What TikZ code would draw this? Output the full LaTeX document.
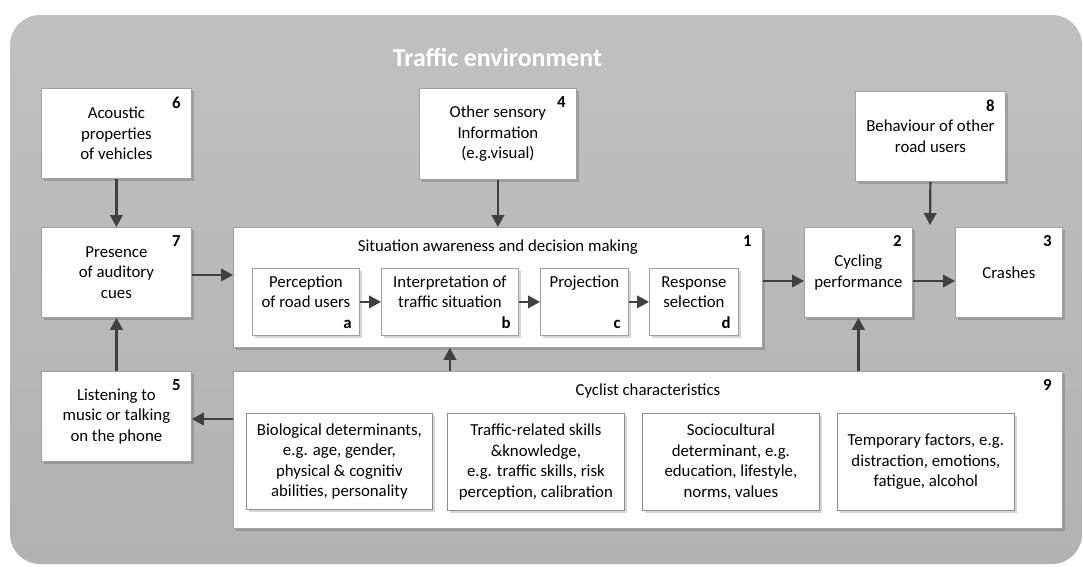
\documentclass[tikz,border=0pt]{standalone}
\usepackage{fontspec}
\setmainfont{Carlito}
\usetikzlibrary{arrows.meta,shadows,calc}
\definecolor{bgtop}{HTML}{C0C0C0}
\definecolor{bgbot}{HTML}{B2B2B2}
\definecolor{arr}{HTML}{404040}
\definecolor{bord}{HTML}{A0A0A0}
\definecolor{ibord}{HTML}{8C8C8C}
\newcommand\bodyfont{\fontsize{16.8}{20.5}\selectfont}
\newcommand\topln{\rule{0pt}{12pt}}
\newcommand\botpad{\rule[-20.5pt]{0pt}{20.5pt}}
\begin{document}
\begin{tikzpicture}[x=1pt,y=-1pt,
  box/.style={draw=bord, line width=0.8pt, fill=white, align=center, inner sep=0pt,
    font=\bodyfont, anchor=north west,
    drop shadow={shadow xshift=2.5pt, shadow yshift=-2.5pt, fill=black, opacity=0.16}},
  inbox/.style={box, draw=ibord},
  sz/.style 2 args={minimum width=#1, minimum height=#2},
  num/.style={font=\bodyfont\bfseries, inner sep=0pt, anchor=north east},
  letter/.style={font=\bodyfont\bfseries, inner sep=0pt, anchor=base east},
  ttl/.style={font=\bodyfont, inner sep=0pt, anchor=base},
  arw/.style={draw=arr, line width=2.2pt, -{Triangle[length=12pt,width=12.5pt]}},
]
\useasboundingbox (0,0) rectangle (1083,566);
\fill[white] (0,0) rectangle (1083,566);
\shade[top color=bgtop, bottom color=bgbot, rounded corners=30pt] (10,15) rectangle (1082,564);

\node[font=\fontsize{25.8}{30}\selectfont\bfseries, text=white, anchor=base, inner sep=0pt] (title) at (497.5,66) {Traffic environment};

% top row
\node[box, sz={150pt}{90pt}] (b6) at (41,88) {Acoustic\\properties\\of vehicles};
\node[num] (n6) at ($(b6.north east)+(-11,8.5)$) {6};
\node[box, sz={157pt}{91pt}] (b4) at (419,88) {Other sensory\\Information\\(e.g.visual)};
\node[num] (n4) at ($(b4.north east)+(-11,8.5)$) {4};
\node[box, sz={150pt}{90pt}] (b8) at (855,91) {Behaviour of other\\road users};
\node[num] (n8) at ($(b8.north east)+(-11,8.5)$) {8};

% middle row
\node[box, sz={150pt}{90pt}] (b7) at (41,227) {Presence\\of auditory\\cues};
\node[num] (n7) at ($(b7.north east)+(-11,8.5)$) {7};
\node[box, sz={529pt}{120pt}] (b1) at (233,227) {};
\node[num] (n1) at ($(b1.north east)+(-11,8.5)$) {1};
\node[ttl] (t1) at ($(b1.north)+(0,24)$) {Situation awareness and decision making};
\node[box, sz={107pt}{67pt}] (sa) at (252,268) {\topln Perception\\of road users\botpad};
\node[box, sz={137pt}{67pt}] (sb) at (381,268) {\topln Interpretation of\\traffic situation\botpad};
\node[box, sz={88pt}{67pt}] (sc) at (540,268) {\topln Projection\\\botpad};
\node[box, sz={89pt}{67pt}] (sd) at (649,268) {\topln Response\\selection\botpad};
\node[letter] (la) at ($(sa.south east)+(-8,-7)$) {a};
\node[letter] (lb) at ($(sb.south east)+(-8,-7)$) {b};
\node[letter] (lc) at ($(sc.south east)+(-8,-7)$) {c};
\node[letter] (ld) at ($(sd.south east)+(-8,-7)$) {d};
\node[box, sz={108pt}{90pt}] (b2) at (804,227) {Cycling\\performance};
\node[num] (n2) at ($(b2.north east)+(-11,8.5)$) {2};
\node[box, sz={107pt}{90pt}] (b3) at (955,227) {Crashes};
\node[num] (n3) at ($(b3.north east)+(-11,8.5)$) {3};

% bottom row
\node[box, sz={150pt}{90pt}] (b5) at (41,371) {Listening to\\music or talking\\on the phone};
\node[num] (n5) at ($(b5.north east)+(-11,8.5)$) {5};
\node[box, sz={829pt}{157pt}] (b9) at (233,371) {};
\node[num] (n9) at ($(b9.north east)+(-11,8.5)$) {9};
\node[ttl] (t9) at ($(b9.north)+(0,24)$) {Cyclist characteristics};
\node[inbox, sz={186pt}{96pt}] (c1) at (246,413) {Biological determinants,\\e.g. age, gender,\\physical \& cognitiv\\abilities, personality};
\node[inbox, sz={177pt}{97pt}] (c2) at (447,413) {Traffic-related skills\\\&knowledge,\\e.g. traffic skills, risk\\perception, calibration};
\node[inbox, sz={177pt}{97pt}] (c3) at (642,413) {Sociocultural\\determinant, e.g.\\education, lifestyle,\\norms, values};
\node[inbox, sz={177pt}{97pt}] (c4) at (837,413) {Temporary factors, e.g.\\distraction, emotions,\\fatigue, alcohol};

% connectors
\coordinate (p8) at (930,225);
\coordinate (r7) at (0,275);
\coordinate (r2) at (0,281);
\coordinate (r5) at (0,419);
\draw[arw] (b6.south) -- (b7.north);
\draw[arw] (b4.south) -- (b1.north);
\draw[arw] (b8.south) -- (p8);
\draw[arw] (b7.east |- r7) -- (b1.west |- r7);
\draw[arw] (sa.east) -- (sb.west);
\draw[arw] (sb.east) -- (sc.west);
\draw[arw] (sc.east) -- (sd.west);
\draw[arw] (b1.east |- r2) -- (b2.west |- r2);
\draw[arw] (b2.east |- r2) -- (b3.west |- r2);
\draw[arw] (b5.north) -- (b7.south);
\draw[arw] (b9.north -| sb.south) -- (b1.south -| sb.south);
\draw[arw] (b9.north -| b2.south) -- (b2.south);
\draw[arw] (b9.west |- r5) -- (b5.east |- r5);
\end{tikzpicture}
\end{document}
